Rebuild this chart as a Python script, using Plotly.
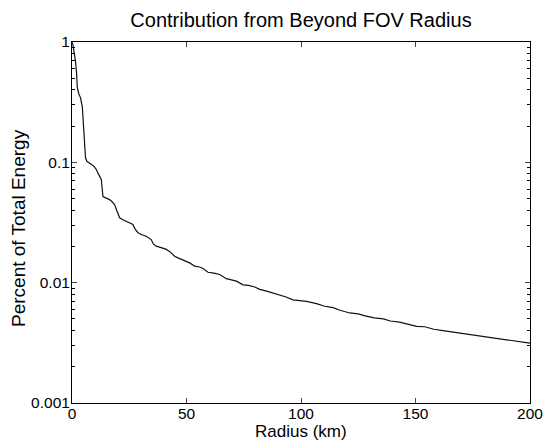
import plotly.graph_objects as go

radius_km = [0, 0.4, 1.0, 1.5, 2.0, 2.3, 3.0, 3.7, 4.5, 5.2, 5.9, 6.5, 7.3, 8.5, 9.5, 10.5,
             11.7, 12.8, 13.5, 14.5, 16.4, 17.5, 18.6, 19.5, 20.8, 22.0, 23.7, 26.6, 27.5,
             28.8, 30.5, 32.4, 34.6, 35.5, 36.8, 39.7, 41.0, 42.6, 44.8, 46.5, 48.4, 51.4,
             53.6, 55.7, 57.2, 59.4, 62.0, 64.5, 67.4, 69.5, 71.8, 74.7, 77.0, 79.8, 82.0,
             85.0, 87.8, 90.7, 93.5, 96.5, 99.5, 102.4, 106.8, 110, 114, 117, 121.3, 125,
             128, 132, 136, 139, 143, 147, 150.5, 154, 158, 162, 166, 170, 175, 179.6, 184,
             188, 192, 196, 200]
energy_pct = [1.0, 0.95, 0.80, 0.70, 0.55, 0.42, 0.37, 0.345, 0.29, 0.16, 0.109, 0.102,
              0.099, 0.096, 0.093, 0.088, 0.079, 0.072, 0.052, 0.051, 0.049, 0.047, 0.0446,
              0.040, 0.0346, 0.0335, 0.0324, 0.0304, 0.028, 0.026, 0.025, 0.0243, 0.0228,
              0.021, 0.0201, 0.0195, 0.019, 0.0182, 0.0166, 0.016, 0.0155, 0.0146, 0.0137,
              0.0135, 0.0131, 0.0122, 0.0120, 0.0117, 0.0108, 0.0106, 0.0103, 0.0096, 0.0095,
              0.0092, 0.0088, 0.0085, 0.0082, 0.0078, 0.0076, 0.0072, 0.0071, 0.0070, 0.0067,
              0.0064, 0.0062, 0.0059, 0.0056, 0.0055, 0.0053, 0.0051, 0.0050, 0.0048, 0.0047,
              0.0045, 0.00434, 0.0043, 0.0041, 0.0040, 0.0039, 0.0038, 0.0037, 0.00358,
              0.0035, 0.0034, 0.0033, 0.0032, 0.00314]

x_ticks = [0, 50, 100, 150, 200]
y_ticks = [0.001, 0.01, 0.1, 1]
y_tick_labels = ["0.001", "0.01", "0.1", "1"]
y_minor = [m * d for d in [0.001, 0.01, 0.1] for m in range(2, 10)]

FONT = "Liberation Sans, Arial, Helvetica, sans-serif"
W, H = 544, 441
L, R, T, B = 72, 14, 42, 38
pw, ph = W - L - R, H - T - B

fig = go.Figure(go.Scatter(x=radius_km, y=energy_pct, mode="lines",
                           line=dict(color="#111111", width=1.2), showlegend=False))

fig.update_layout(
    width=W, height=H,
    paper_bgcolor="white", plot_bgcolor="white",
    margin=dict(l=L, r=R, t=T, b=B),
    font=dict(family=FONT, color="black", size=15.5),
    title=dict(text="Contribution from Beyond FOV Radius", x=301 / W, xanchor="center",
               y=1 - 20 / H, yanchor="middle", xref="container", yref="container",
               font=dict(size=20, family=FONT, color="black")),
    annotations=[
        dict(text="Radius (km)", x=0.5, y=-(432 - (T + ph)) / ph, xref="paper", yref="paper",
             xanchor="center", yanchor="middle", showarrow=False,
             font=dict(size=17, family=FONT, color="black")),
        dict(text="Percent of Total Energy", x=(18 - L) / pw, y=1 - (228 - T) / ph,
             xref="paper", yref="paper", xanchor="center", yanchor="middle",
             showarrow=False, textangle=-90,
             font=dict(size=19, family=FONT, color="black")),
    ],
)

fig.update_xaxes(range=[0, 200], tickvals=x_ticks, ticks="inside", ticklen=5,
                 showline=True, linecolor="black", linewidth=1, mirror="ticks",
                 showgrid=False, zeroline=False, automargin=False,
                 ticklabelstandoff=-4,
                 tickfont=dict(size=15.5))
fig.update_yaxes(type="log", range=[-3, 0], tickvals=y_ticks, ticktext=y_tick_labels,
                 ticks="inside", ticklen=5, showline=True, linecolor="black", linewidth=1,
                 mirror="ticks", showgrid=False, zeroline=False, automargin=False,
                 ticklabelstandoff=-2,
                 minor=dict(tickvals=y_minor, ticks="inside", ticklen=3, showgrid=False,
                            tickcolor="black"),
                 tickfont=dict(size=15.5))

fig.write_html("out.html", config={"displayModeBar": False},
               post_script="document.body.style.margin='0px';")
